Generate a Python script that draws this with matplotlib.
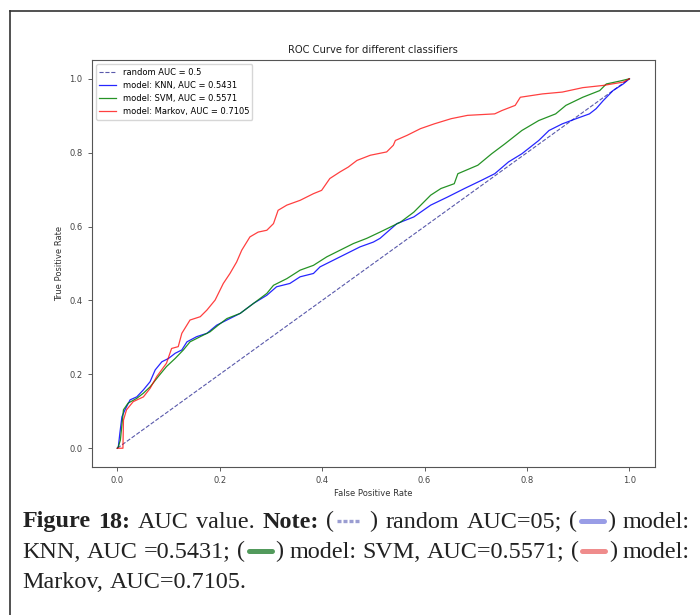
import matplotlib
matplotlib.use("Agg")
import matplotlib.pyplot as plt
from matplotlib.lines import Line2D

# ---------------- data ----------------
fpr_random = [0.0, 1.0]
tpr_random = [0.0, 1.0]

fpr_knn = [0.0, 0.002, 0.005, 0.009, 0.015, 0.025, 0.038, 0.051, 0.064, 0.074, 0.087,
           0.100, 0.113, 0.126, 0.136, 0.155, 0.175, 0.194, 0.214, 0.240, 0.266, 0.292,
           0.311, 0.337, 0.357, 0.383, 0.396, 0.422, 0.448, 0.474, 0.500, 0.513, 0.546,
           0.579, 0.612, 0.645, 0.678, 0.711, 0.737, 0.764, 0.790, 0.823, 0.843, 0.869,
           0.896, 0.922, 0.935, 0.949, 0.968, 0.988, 1.0]
tpr_knn = [0.0, 0.004, 0.041, 0.085, 0.104, 0.131, 0.139, 0.158, 0.180, 0.212, 0.234,
           0.243, 0.257, 0.266, 0.288, 0.302, 0.311, 0.333, 0.347, 0.365, 0.392, 0.414,
           0.437, 0.446, 0.464, 0.473, 0.491, 0.509, 0.527, 0.545, 0.558, 0.568, 0.608,
           0.626, 0.658, 0.680, 0.703, 0.725, 0.743, 0.775, 0.797, 0.833, 0.860, 0.878,
           0.892, 0.905, 0.919, 0.941, 0.968, 0.986, 1.0]

fpr_svm = [0.0, 0.002, 0.006, 0.012, 0.021, 0.038, 0.051, 0.064, 0.080, 0.096, 0.113,
           0.129, 0.142, 0.162, 0.181, 0.197, 0.214, 0.240, 0.266, 0.292, 0.305, 0.331,
           0.357, 0.383, 0.409, 0.435, 0.461, 0.487, 0.513, 0.553, 0.579, 0.612, 0.632,
           0.658, 0.665, 0.704, 0.731, 0.757, 0.790, 0.823, 0.856, 0.876, 0.909, 0.942,
           0.955, 0.982, 1.0]
tpr_svm = [0.0, 0.004, 0.022, 0.104, 0.122, 0.135, 0.149, 0.166, 0.194, 0.221, 0.243,
           0.266, 0.288, 0.302, 0.315, 0.333, 0.351, 0.365, 0.392, 0.419, 0.441, 0.459,
           0.482, 0.495, 0.518, 0.536, 0.554, 0.568, 0.585, 0.612, 0.639, 0.685, 0.703,
           0.716, 0.743, 0.766, 0.797, 0.824, 0.860, 0.887, 0.905, 0.928, 0.950, 0.968,
           0.986, 0.994, 1.0]

fpr_markov = [0.0, 0.011, 0.012, 0.018, 0.031, 0.051, 0.064, 0.077, 0.096, 0.106, 0.119,
              0.126, 0.142, 0.162, 0.175, 0.191, 0.207, 0.220, 0.233, 0.243, 0.259, 0.275,
              0.292, 0.305, 0.314, 0.331, 0.357, 0.383, 0.399, 0.415, 0.435, 0.451, 0.468,
              0.494, 0.526, 0.539, 0.543, 0.566, 0.592, 0.619, 0.652, 0.684, 0.737, 0.751,
              0.777, 0.787, 0.830, 0.869, 0.909, 0.949, 0.988, 1.0]
tpr_markov = [0.0, 0.0, 0.076, 0.104, 0.126, 0.139, 0.162, 0.194, 0.230, 0.270, 0.275,
              0.311, 0.347, 0.356, 0.374, 0.401, 0.446, 0.473, 0.504, 0.536, 0.572, 0.585,
              0.590, 0.608, 0.644, 0.658, 0.671, 0.689, 0.698, 0.730, 0.748, 0.761, 0.779,
              0.793, 0.802, 0.820, 0.833, 0.847, 0.865, 0.878, 0.892, 0.901, 0.905, 0.914,
              0.928, 0.950, 0.959, 0.964, 0.976, 0.982, 0.991, 1.0]

labels = ["random AUC = 0.5", "model: KNN, AUC = 0.5431",
          "model: SVM, AUC = 0.5571", "model: Markov, AUC = 0.7105"]
xticks = [0.0, 0.2, 0.4, 0.6, 0.8, 1.0]
yticks = [0.0, 0.2, 0.4, 0.6, 0.8, 1.0]

# ---------------- figure ----------------
W, H = 700, 615
fig = plt.figure(figsize=(W / 100, H / 100), dpi=100)
fig.patch.set_facecolor("white")


def fx(px):
    return px / W


def fy(py):
    return 1 - py / H


ax = fig.add_axes([fx(91.7), fy(466.7), fx(655) - fx(91.7), fy(60.3) - fy(466.7)])
ax.plot(fpr_random, tpr_random, color="#3c3c9c", linestyle="--", lw=0.8, alpha=0.85,
        label=labels[0])
ax.plot(fpr_knn, tpr_knn, color="blue", lw=0.9, alpha=0.85, label=labels[1])
ax.plot(fpr_svm, tpr_svm, color="green", lw=0.9, alpha=0.85, label=labels[2])
ax.plot(fpr_markov, tpr_markov, color="red", lw=0.9, alpha=0.75, label=labels[3])
ax.set_xticks(xticks)
ax.set_yticks(yticks)
ax.tick_params(labelsize=6, colors="#444444", length=3, width=0.6)
for sp in ax.spines.values():
    sp.set_color("#555555")
    sp.set_linewidth(0.8)
ax.set_title("ROC Curve for different classifiers", fontsize=7.2, color="#222222", pad=5)
ax.set_xlabel("False Positive Rate", fontsize=6, color="#333333", labelpad=3)
ax.set_ylabel("True Positive Rate", fontsize=6, color="#333333", labelpad=4)
ax.legend(loc="upper left", fontsize=6, framealpha=0.8)

# outer frame (top and left edges visible)
fig.add_artist(Line2D([fx(9.5), fx(700)], [fy(11), fy(11)], color="#333333", lw=1.2))
fig.add_artist(Line2D([fx(9.5), fx(9.5)], [fy(11), fy(615)], color="#333333", lw=1.2))

# ---------------- caption ----------------
renderer = fig.canvas.get_renderer()
FS = 17.4
FAM = "Liberation Serif"
TXT = "#222222"


def make_text(s, bold):
    return fig.text(0, 0, s, fontsize=FS, family=FAM, color=TXT,
                    fontweight="bold" if bold else "normal",
                    ha="left", va="baseline")


def text_width(s, bold=False):
    t = make_text(s, bold)
    w = t.get_window_extent(renderer).width
    t.remove()
    return w


SW_LEN = 27
SW_PAD = 1.5


def token_width(tok):
    w = 0
    for p in tok:
        if p[0] == "t":
            w += text_width(p[1], p[2])
        else:
            w += SW_LEN + 2 * SW_PAD
    return w


def draw_token(tok, x, ybase):
    for p in tok:
        if p[0] == "t":
            t = make_text(p[1], p[2])
            t.set_position((fx(x), fy(ybase)))
            x += t.get_window_extent(renderer).width
        else:
            color, ls = p[1], p[2]
            yy = ybase - 7
            ln = Line2D([fx(x + SW_PAD + 2), fx(x + SW_PAD + SW_LEN - 2)], [fy(yy), fy(yy)],
                        color=color, lw=3.6 if ls == "-" else 2.4,
                        linestyle=ls, solid_capstyle="round", dash_capstyle="butt",
                        alpha=0.9)
            if ls != "-":
                ln.set_dashes([1.2, 0.6])
            fig.add_artist(ln)
            x += SW_LEN + 2 * SW_PAD
    return x


def T(s, bold=False):
    return [("t", s, bold)]


def SW(color, ls="-", space=""):
    return [("t", "(", False), ("s", color, ls), ("t", space + ")", False)]


line1 = [T("Figure", True), T("18:", True), T("AUC"), T("value."), T("Note:", True),
         SW("#8f92cc", "--", " "), T("random"), T("AUC=05;"), SW("#8e92e4"), T("model:")]
line2 = [T("KNN,"), T("AUC"), T("=0.5431;"), SW("#3f8f4a"), T("model:"), T("SVM,"),
         T("AUC=0.5571;"), SW("#ee8080"), T("model:")]
line3 = [T("Markov,"), T("AUC=0.7105.")]

LEFT, RIGHT = 22.5, 690
space_w = text_width("a a") - text_width("aa")


def draw_line(tokens, ybase, justify):
    widths = [token_width(t) for t in tokens]
    if justify:
        gap = (RIGHT - LEFT - sum(widths)) / (len(tokens) - 1)
    else:
        gap = space_w
    x = LEFT
    for tok, w in zip(tokens, widths):
        draw_token(tok, x, ybase)
        x += w + gap


draw_line(line1, 527.5, True)
draw_line(line2, 557.5, True)
draw_line(line3, 587.5, False)

fig.savefig("out.png", dpi=100, facecolor="white")
